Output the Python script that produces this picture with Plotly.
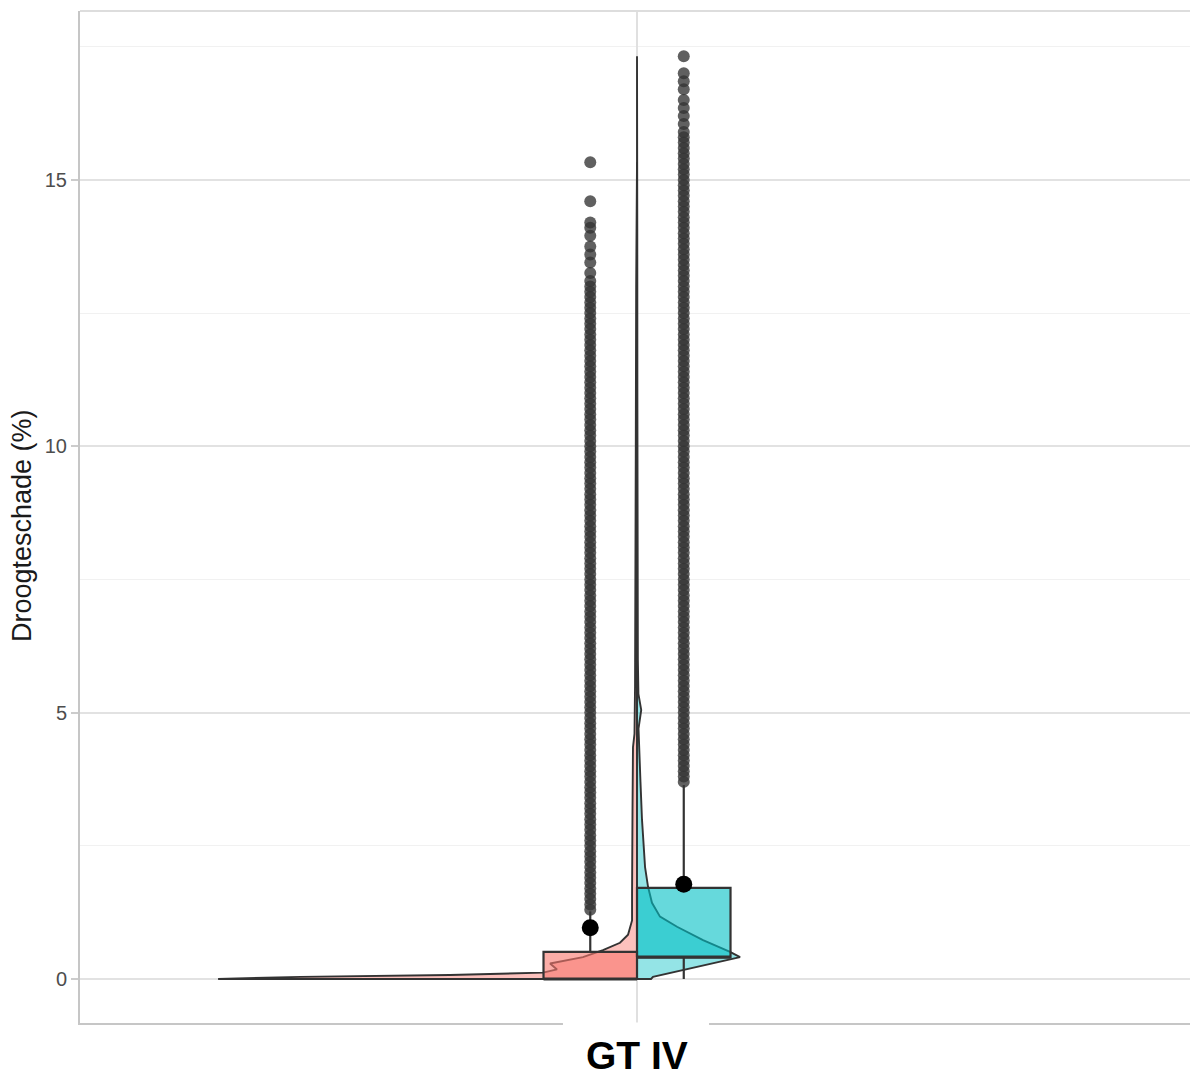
import numpy as np
import plotly.graph_objects as go

# ---------------------------------------------------------------- data
group_label = "GT IV"
y_title = "Droogteschade (%)"
y_tick_vals = [0, 5, 10, 15]
y_tick_text = ["0", "5", "10", "15"]
y_minor_vals = [2.5, 7.5, 12.5, 17.5]

# Half-violin density profiles: density value at each damage level
red_dens_y = [0.00, 0.04, 0.075, 0.12, 0.18, 0.29, 0.32, 0.41, 0.54, 0.68,
              0.83, 1.10, 1.60, 2.30, 3.20, 4.35, 4.60, 5.50, 7.00, 10.0,
              13.0, 15.33]
red_dens = [4.48, 3.60, 2.00, 1.005, 0.856, 0.930, 0.845, 0.578, 0.364, 0.182,
            0.096, 0.053, 0.053, 0.048, 0.048, 0.043, 0.027, 0.021, 0.016, 0.013,
            0.009, 0.003]

teal_dens_y = [0.00, 0.04, 0.15, 0.25, 0.36, 0.41, 0.51, 0.73, 0.98, 1.17,
               1.43, 1.73, 2.10, 2.60, 3.00, 3.70, 4.30, 4.70, 5.05, 5.35,
               6.00, 8.00, 11.0, 14.0, 17.32]
teal_dens = [0.150, 0.171, 0.449, 0.727, 0.995, 1.102, 0.995, 0.706, 0.428, 0.246,
             0.160, 0.118, 0.086, 0.064, 0.053, 0.037, 0.027, 0.016, 0.045, 0.015,
             0.009, 0.005, 0.004, 0.003, 0.002]

# Box summaries: lower whisker, Q1, median, Q3, upper whisker
red_box = [0.0, 0.0, 0.0, 0.51, 1.27]
teal_box = [0.0, 0.41, 0.41, 1.71, 3.64]
red_mean = 0.96
teal_mean = 1.78

red_outliers = [
    1.3, 1.4, 1.5, 1.6, 1.7, 1.8, 1.9,
    2.0, 2.1, 2.2, 2.3, 2.4, 2.5, 2.6, 2.7, 2.8, 2.9,
    3.0, 3.1, 3.2, 3.3, 3.4, 3.5, 3.6, 3.7, 3.8, 3.9,
    4.0, 4.1, 4.2, 4.3, 4.4, 4.5, 4.6, 4.7, 4.8, 4.9,
    5.0, 5.1, 5.2, 5.3, 5.4, 5.5, 5.6, 5.7, 5.8, 5.9,
    6.0, 6.1, 6.2, 6.3, 6.4, 6.5, 6.6, 6.7, 6.8, 6.9,
    7.0, 7.1, 7.2, 7.3, 7.4, 7.5, 7.6, 7.7, 7.8, 7.9,
    8.0, 8.1, 8.2, 8.3, 8.4, 8.5, 8.6, 8.7, 8.8, 8.9,
    9.0, 9.1, 9.2, 9.3, 9.4, 9.5, 9.6, 9.7, 9.8, 9.9,
    10.0, 10.1, 10.2, 10.3, 10.4, 10.5, 10.6, 10.7, 10.8, 10.9,
    11.0, 11.1, 11.2, 11.3, 11.4, 11.5, 11.6, 11.7, 11.8, 11.9,
    12.0, 12.1, 12.2, 12.3, 12.4, 12.5, 12.6, 12.7, 12.8, 12.9,
    13.0, 13.1, 13.25, 13.45, 13.6, 13.75, 13.95, 14.1, 14.2, 14.6, 15.33,
]

teal_outliers = [
    3.7, 3.8, 3.9,
    4.0, 4.1, 4.2, 4.3, 4.4, 4.5, 4.6, 4.7, 4.8, 4.9,
    5.0, 5.1, 5.2, 5.3, 5.4, 5.5, 5.6, 5.7, 5.8, 5.9,
    6.0, 6.1, 6.2, 6.3, 6.4, 6.5, 6.6, 6.7, 6.8, 6.9,
    7.0, 7.1, 7.2, 7.3, 7.4, 7.5, 7.6, 7.7, 7.8, 7.9,
    8.0, 8.1, 8.2, 8.3, 8.4, 8.5, 8.6, 8.7, 8.8, 8.9,
    9.0, 9.1, 9.2, 9.3, 9.4, 9.5, 9.6, 9.7, 9.8, 9.9,
    10.0, 10.1, 10.2, 10.3, 10.4, 10.5, 10.6, 10.7, 10.8, 10.9,
    11.0, 11.1, 11.2, 11.3, 11.4, 11.5, 11.6, 11.7, 11.8, 11.9,
    12.0, 12.1, 12.2, 12.3, 12.4, 12.5, 12.6, 12.7, 12.8, 12.9,
    13.0, 13.1, 13.2, 13.3, 13.4, 13.5, 13.6, 13.7, 13.8, 13.9,
    14.0, 14.1, 14.2, 14.3, 14.4, 14.5, 14.6, 14.7, 14.8, 14.9,
    15.0, 15.1, 15.2, 15.3, 15.4, 15.5, 15.6, 15.7, 15.8, 15.9,
    16.05, 16.2, 16.35, 16.5, 16.7, 16.85, 17.0, 17.32,
]

# -------------------------------------------------------------- styling
GROUP_X = 1.0          # position of the single category on the x axis
BOX_W = 0.1            # box width (and dodge offset) in axis units
VIOLIN_SCALE = 0.1     # axis units per unit of density
LINE = "#333333"
RED_VIOLIN = "rgba(248,118,109,0.45)"
RED_BOX = "rgba(248,118,109,0.60)"
TEAL_VIOLIN = "rgba(0,191,196,0.42)"
TEAL_BOX = "rgba(0,191,196,0.60)"
FONT = "Liberation Sans, Arial, sans-serif"


def half_violin(ys, dens, side, fill):
    ys = np.asarray(ys, dtype=float)
    xs = GROUP_X + side * np.asarray(dens, dtype=float) * VIOLIN_SCALE
    x = np.concatenate([[GROUP_X], xs, [GROUP_X, GROUP_X]])
    y = np.concatenate([[ys[0]], ys, [ys[-1], ys[0]]])
    return go.Scatter(x=x, y=y, mode="lines", fill="toself", fillcolor=fill,
                      line=dict(color=LINE, width=1.9), hoverinfo="skip",
                      showlegend=False)


def box_traces(stats, xc, fill):
    low, q1, med, q3, high = stats
    x0, x1 = xc - BOX_W / 2, xc + BOX_W / 2
    whisk = go.Scatter(x=[xc, xc, None, xc, xc], y=[low, q1, None, q3, high],
                       mode="lines", line=dict(color=LINE, width=2.2),
                       hoverinfo="skip", showlegend=False)
    box = go.Scatter(x=[x0, x1, x1, x0, x0], y=[q1, q1, q3, q3, q1],
                     mode="lines", fill="toself", fillcolor=fill,
                     line=dict(color=LINE, width=2.2), hoverinfo="skip",
                     showlegend=False)
    median = go.Scatter(x=[x0, x1], y=[med, med], mode="lines",
                        line=dict(color=LINE, width=3.2), hoverinfo="skip",
                        showlegend=False)
    return [whisk, box, median]


red_x = GROUP_X - BOX_W / 2
teal_x = GROUP_X + BOX_W / 2

fig = go.Figure()
fig.add_trace(half_violin(red_dens_y, red_dens, -1, RED_VIOLIN))
fig.add_trace(half_violin(teal_dens_y, teal_dens, +1, TEAL_VIOLIN))
for t in box_traces(red_box, red_x, RED_BOX):
    fig.add_trace(t)
for t in box_traces(teal_box, teal_x, TEAL_BOX):
    fig.add_trace(t)

for xc, pts in ((red_x, red_outliers), (teal_x, teal_outliers)):
    fig.add_trace(go.Scatter(x=[xc] * len(pts), y=pts, mode="markers",
                             marker=dict(color="rgba(51,51,51,0.78)", size=12,
                                         line=dict(width=0)),
                             hoverinfo="y", showlegend=False))

fig.add_trace(go.Scatter(x=[red_x, teal_x], y=[red_mean, teal_mean],
                         mode="markers",
                         marker=dict(color="black", size=17, line=dict(width=0)),
                         hoverinfo="y", showlegend=False))

fig.update_layout(
    width=1190, height=1079,
    margin=dict(l=80, r=0, t=11, b=56),
    paper_bgcolor="white", plot_bgcolor="white",
    font=dict(family=FONT),
    showlegend=False,
    xaxis=dict(range=[0.4043, 1.5914], tickvals=[GROUP_X], ticktext=[""],
               showticklabels=False, ticks="", showgrid=True,
               gridcolor="#e0e0e0", gridwidth=1.5, zeroline=False,
               showline=True, linecolor="#c6c6c6", linewidth=2),
    yaxis=dict(range=[-0.826, 18.17], tickvals=y_tick_vals, ticktext=y_tick_text,
               ticks="outside", ticklen=7, tickwidth=1.5, tickcolor="#cccccc",
               tickfont=dict(size=20, color="#4d4d4d", family=FONT),
               showgrid=True, gridcolor="#e2e2e2", gridwidth=1.5,
               zeroline=False, showline=True, linecolor="#c6c6c6", linewidth=2,
               minor=dict(tickvals=y_minor_vals, showgrid=True,
                          gridcolor="#f1f1f1", gridwidth=1, ticks="")),
)

# light frame along the top of the panel
fig.add_shape(type="line", xref="paper", yref="paper", x0=0, x1=1, y0=1, y1=1,
              line=dict(color="#dddddd", width=2), layer="above")
# white tab behind the category label
fig.add_shape(type="rect", xref="paper", yref="paper",
              x0=0.4351, x1=0.5667, y0=-0.07, y1=0.0005,
              fillcolor="white", line=dict(width=0), layer="above")

fig.add_annotation(text="<b>" + group_label + "</b>", x=GROUP_X, xref="x",
                   y=-0.0326, yref="paper", yanchor="middle", showarrow=False,
                   borderpad=0,
                   font=dict(size=39, color="black", family=FONT))
fig.add_annotation(text=y_title, textangle=-90, x=-0.0523, xref="paper",
                   y=0.492, yref="paper", xanchor="center", yanchor="middle",
                   showarrow=False, font=dict(size=27, color="#1a1a1a", family=FONT))

fig.write_html("out.html")
